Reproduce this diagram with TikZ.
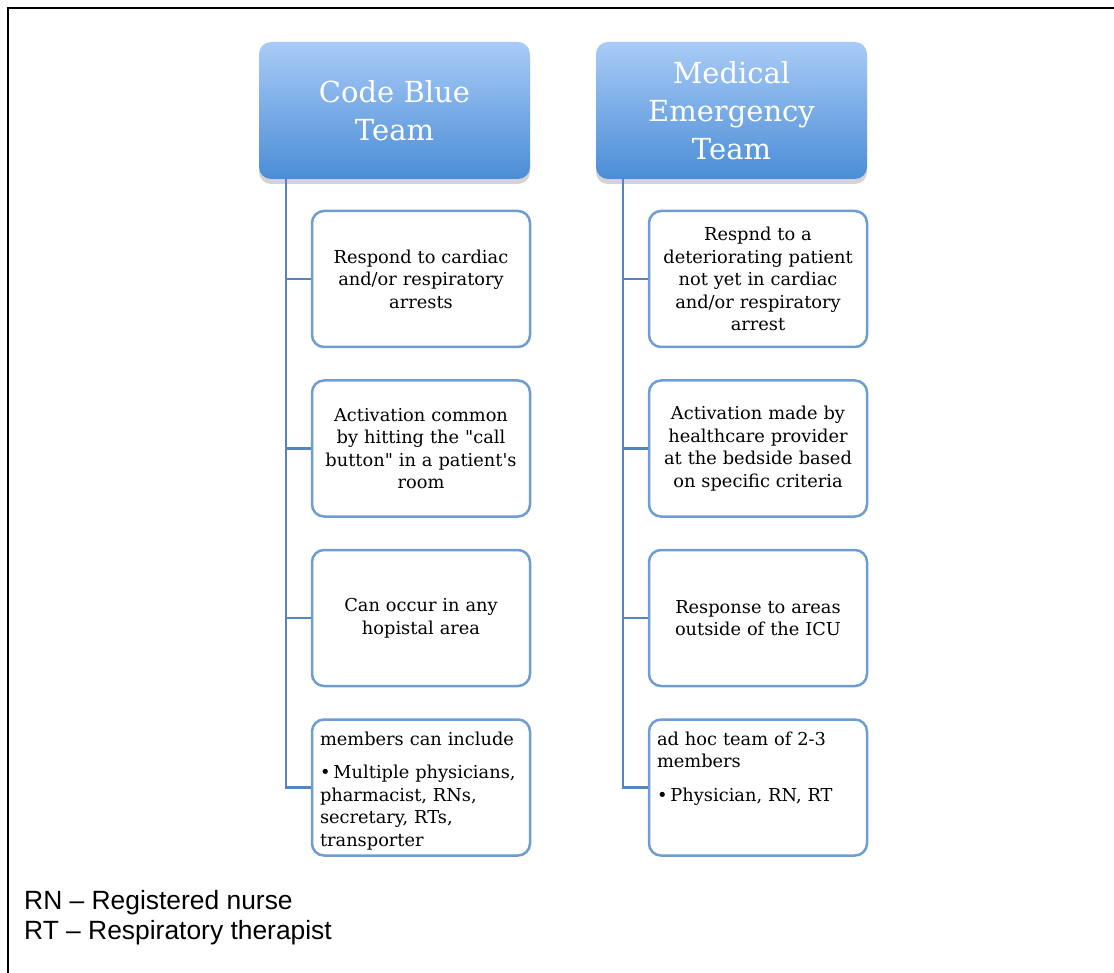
\documentclass[tikz,border=0pt]{standalone}
\usepackage{fontspec}
\setmainfont{DejaVu Serif}
\newfontfamily\legendfont{Liberation Sans}
\usetikzlibrary{shadows,positioning}

\definecolor{hdrtop}{HTML}{A9CBF6}
\definecolor{hdrbot}{HTML}{4A8DD6}
\definecolor{boxline}{HTML}{6E9DD3}
\definecolor{spinecol}{HTML}{5884BC}

\tikzset{
  teamhead/.style={rectangle, rounded corners=12pt, minimum width=271pt, minimum height=137pt,
    top color=hdrtop, bottom color=hdrbot, text=white, align=center, inner sep=0pt,
    font=\fontsize{29}{38}\selectfont,
    drop shadow={shadow xshift=0pt, shadow yshift=-5pt, opacity=0.35}},
  infobox/.style={rectangle, draw=boxline, line width=2.5pt, rounded corners=12pt, fill=white,
    minimum width=218pt, minimum height=136pt, text width=202pt, align=center, inner sep=0pt,
    font=\fontsize{17.8}{22.5}\selectfont},
  branch/.style={draw=spinecol, line width=2.8pt},
  legendline/.style={anchor=base west, inner sep=0pt, font=\legendfont\fontsize{26.4}{30}\selectfont}
}

% bullet paragraph with hanging indent
\newcommand{\bulletpar}[1]{{\hangindent=12pt\hangafter=1\textbullet\hspace{3pt}#1\par}}

\begin{document}
\begin{tikzpicture}[x=1pt, y=-1pt]
  \useasboundingbox (0,0) rectangle (1114,973);
  % outer frame (right and bottom edges are cut off)
  \draw[line width=2.5pt] (8,973) -- (8,8) -- (1114,8);

  \def\lx{421}    % left column box centre
  \def\rx{758}    % right column box centre
  \def\by{279}    % first box centre y
  \def\bstep{169.5} % box pitch

  % team headers
  \node[teamhead] (cbt) at (394.5,110.5) {Code Blue\\Team};
  \node[teamhead] (met) at (731.5,110.5) {Medical\\Emergency\\Team};

  % Code Blue column
  \node[infobox] (cb1) at (\lx,\by) {Respond to cardiac\\and/or respiratory\\arrests};
  \node[infobox] (cb2) at (\lx,{\by+\bstep}) {Activation common\\by hitting the \textquotedbl call\\button\textquotedbl{} in a patient\textquotesingle s\\room};
  \node[infobox] (cb3) at (\lx,{\by+2*\bstep}) {Can occur in any\\hopistal area};
  \node[infobox, align=left] (cb4) at (\lx,{\by+3*\bstep}) {\parbox[c][128pt][t]{202pt}{\raggedright
    \vspace*{8pt}members can include\par\vspace{11pt}
    \bulletpar{Multiple physicians,\\pharmacist, RNs,\\secretary, RTs,\\transporter}}};

  % Medical Emergency column
  \node[infobox] (me1) at (\rx,\by) {Respnd to a\\deteriorating patient\\not yet in cardiac\\and/or respiratory\\arrest};
  \node[infobox] (me2) at (\rx,{\by+\bstep}) {Activation made by\\healthcare provider\\at the bedside based\\on specific criteria};
  \node[infobox] (me3) at (\rx,{\by+2*\bstep}) {Response to areas\\outside of the ICU};
  \node[infobox, align=left] (me4) at (\rx,{\by+3*\bstep}) {\parbox[c][128pt][t]{202pt}{\raggedright
    \vspace*{8pt}ad hoc team of 2-3\\members\par\vspace{11pt}
    \bulletpar{Physician, RN, RT}}};

  % spines hanging from the headers
  \coordinate (cbspine) at (286,179);
  \coordinate (mespine) at (623,179);
  \foreach \i in {1,...,4} {
    \draw[branch] (cbspine) |- (cb\i.west);
    \draw[branch] (mespine) |- (me\i.west);
  }

  % abbreviations
  \node[legendline] (rn) at (24,909) {RN \textendash{} Registered nurse};
  \node[legendline] (rt) at (24,939) {RT \textendash{} Respiratory therapist};
\end{tikzpicture}
\end{document}
